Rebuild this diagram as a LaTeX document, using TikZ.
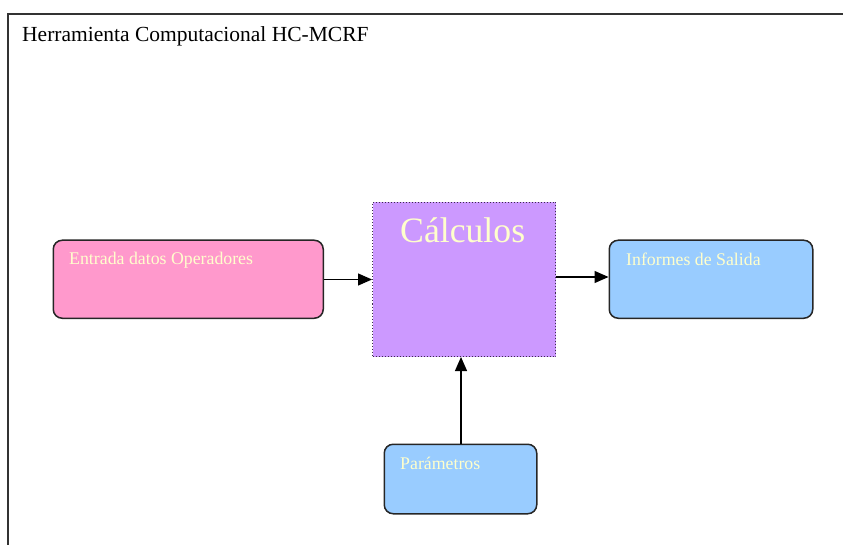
\documentclass[tikz,border=0pt]{standalone}
\usepackage{fontspec}
\setmainfont{Liberation Serif}
\usetikzlibrary{arrows.meta}
\definecolor{boxtext}{HTML}{FFFFCC}
\definecolor{pinkfill}{HTML}{FF99CC}
\definecolor{bluefill}{HTML}{99CCFF}
\definecolor{violetfill}{HTML}{CC99FF}
\definecolor{frameline}{HTML}{333333}
\tikzset{
  roundbox/.style={draw=black!85, line width=1.5pt, rounded corners=9pt, inner sep=0pt, anchor=north west},
  calcbox/.style={draw=black!70!violetfill, dotted, line width=1pt, fill=violetfill, inner sep=0pt, anchor=north west},
  boxlabel/.style={text=boxtext, anchor=base west, inner sep=0pt, font=\fontsize{17.8}{20}\selectfont},
  flow/.style={line width=1.2pt, -{Triangle[length=14pt,width=12pt]}}
}
\begin{document}
\begin{tikzpicture}[x=1pt,y=-1pt]
  \useasboundingbox (0,0) rectangle (843,545);
  % outer frame (top and left edges)
  \draw[frameline, line width=2.2pt] (843,14) -- (8,14) -- (8,545);
  \node[anchor=base west, inner sep=0pt, font=\fontsize{21.5}{24}\selectfont] (title) at (22,42) {Herramienta Computacional HC-MCRF};

  % boxes
  \node[roundbox, fill=pinkfill, minimum width=270pt, minimum height=78pt] (entrada) at (52.5,239.5) {};
  \node[calcbox, minimum width=183pt, minimum height=154pt] (calc) at (372,202) {};
  \node[roundbox, fill=bluefill, minimum width=203.5pt, minimum height=78pt] (informes) at (608.5,239.5) {};
  \node[roundbox, fill=bluefill, minimum width=152.5pt, minimum height=69.5pt] (param) at (383.5,443.5) {};

  % labels
  \node[boxlabel] (tentrada) at (69,265) {Entrada datos Operadores};
  \node[boxlabel] (tinformes) at (626,266) {Informes de Salida};
  \node[boxlabel] (tparam) at (400,469.5) {Parámetros};
  \node[text=boxtext, anchor=base west, inner sep=0pt, font=\fontsize{35.7}{40}\selectfont] (tcalc) at (400,243) {Cálculos};

  % connectors
  \draw[flow] (entrada.east |- 0,279.5) -- (calc.west |- 0,279.5);
  \draw[flow] (calc.east |- 0,277) -- (informes.west |- 0,277);
  \draw[flow] (param.north -| 461,0) -- (calc.south -| 461,0);
\end{tikzpicture}
\end{document}
